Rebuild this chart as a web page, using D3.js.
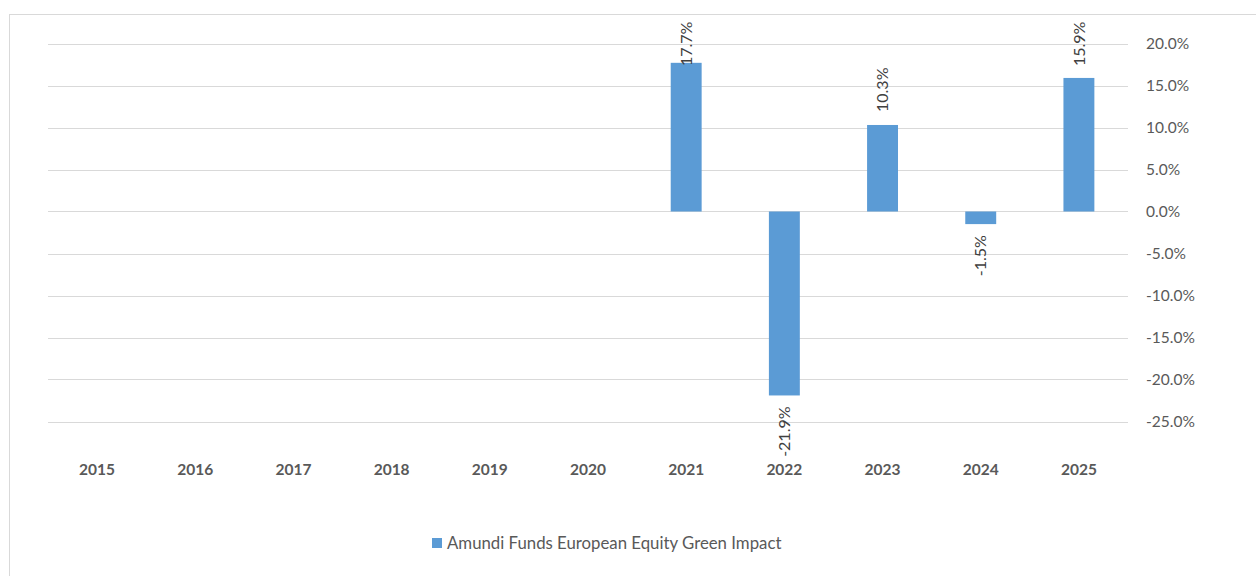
<!DOCTYPE html>
<html>
<head>
<meta charset="utf-8">
<script src="https://cdn.jsdelivr.net/npm/d3@7"></script>
<style>
  body { margin: 0; background: #fff; }
  svg { display: block; font-family: Lato, "Open Sans", sans-serif; }
</style>
</head>
<body>
<svg id="chart" width="1256" height="576"></svg>
<script>
// data
var years = ["2015", "2016", "2017", "2018", "2019", "2020", "2021", "2022", "2023", "2024", "2025"];
var returns = [null, null, null, null, null, null, 17.7, -21.9, 10.3, -1.5, 15.9];
var yTicks = [20, 15, 10, 5, 0, -5, -10, -15, -20, -25];
var seriesName = "Amundi Funds European Equity Green Impact";

var svg = d3.select("#chart");
var margin = {top: 43.5, left: 48, right: 1128, bottom: 421.5};

// outer frame
svg.append("rect")
    .attr("x", 9.5).attr("y", 14.5)
    .attr("width", 1400).attr("height", 800)
    .attr("fill", "none")
    .attr("stroke", "#d9d9d9");

var x = d3.scaleBand()
    .domain(years)
    .range([margin.left, margin.right])
    .paddingInner(0.685)
    .paddingOuter(0.3425);

var y = d3.scaleLinear()
    .domain([-25, 20])
    .range([margin.bottom, margin.top]);

// gridlines
svg.append("g").selectAll("line")
    .data(yTicks)
    .enter().append("line")
    .attr("x1", margin.left).attr("x2", margin.right)
    .attr("y1", function(d) { return Math.round(y(d)) + 0.5; })
    .attr("y2", function(d) { return Math.round(y(d)) + 0.5; })
    .attr("stroke", "#d9d9d9")
    .attr("stroke-width", 1);

// right axis labels
var yAxis = d3.axisRight(y)
    .tickValues(yTicks)
    .tickSize(0)
    .tickPadding(18)
    .tickFormat(function(d) { return d.toFixed(1) + "%"; });

svg.append("g")
    .attr("transform", "translate(" + margin.right + ",0)")
    .call(yAxis)
    .call(function(g) { g.select(".domain").remove(); })
    .selectAll("text")
    .attr("font-size", "15.5px")
    .attr("font-family", "Lato, sans-serif")
    .attr("fill", "#595959");

// bottom category labels
var xAxis = d3.axisBottom(x).tickSize(0).tickPadding(0);
svg.append("g")
    .attr("transform", "translate(0,464)")
    .call(xAxis)
    .call(function(g) { g.select(".domain").remove(); })
    .selectAll("text")
    .attr("font-size", "15.5px")
    .attr("font-weight", "bold")
    .attr("font-family", "Lato, sans-serif")
    .attr("fill", "#595959");

var rows = years.map(function(d, i) { return {year: d, value: returns[i]}; })
    .filter(function(d) { return d.value !== null; });

// bars
svg.append("g").selectAll("rect")
    .data(rows)
    .enter().append("rect")
    .attr("x", function(d) { return x(d.year); })
    .attr("width", x.bandwidth())
    .attr("y", function(d) { return Math.min(y(d.value), y(0)); })
    .attr("height", function(d) { return Math.abs(y(d.value) - y(0)); })
    .attr("fill", "#5b9bd5");

// value labels, rotated
svg.append("g").selectAll("text")
    .data(rows)
    .enter().append("text")
    .attr("transform", function(d) {
        var cx = x(d.year) + x.bandwidth() / 2;
        var cy;
        if (d.value >= 0) cy = Math.max(y(d.value) - 13, 66);
        else cy = y(d.value) + 11;
        return "translate(" + cx + "," + cy + ") rotate(-90)";
    })
    .attr("text-anchor", function(d) { return d.value >= 0 ? "start" : "end"; })
    .attr("dy", "0.35em")
    .attr("font-size", "16px")
    .attr("fill", "#404040")
    .text(function(d) { return d.value.toFixed(1) + "%"; });

// legend
var legend = svg.append("g").attr("transform", "translate(432,538)");
legend.append("rect")
    .attr("width", 10).attr("height", 10)
    .attr("fill", "#5b9bd5");
legend.append("text")
    .attr("x", 15).attr("y", 11)
    .attr("font-size", "16.8px")
    .attr("fill", "#595959")
    .text(seriesName);
</script>
</body>
</html>
